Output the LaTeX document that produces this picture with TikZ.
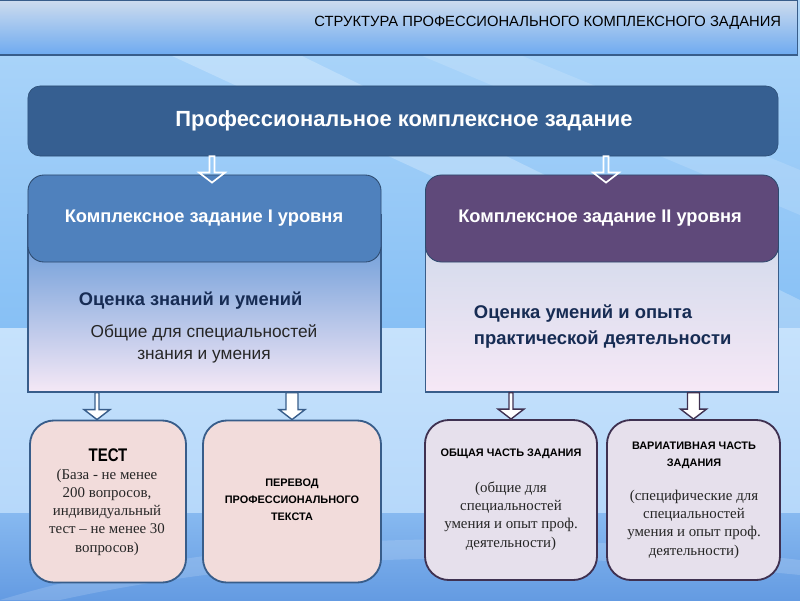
\documentclass[tikz,border=0pt]{standalone}
\usepackage{fontspec}
\setmainfont{Liberation Serif}
\newfontfamily\nsans[FakeStretch=0.82]{Liberation Sans}
\newfontfamily\asans{Liberation Sans}
\usetikzlibrary{calc}
\definecolor{mainblue}{RGB}{54,95,145}
\definecolor{lvlblue}{RGB}{79,129,189}
\definecolor{lvlpurple}{RGB}{95,73,122}
\definecolor{edgeblue}{RGB}{56,93,138}
\definecolor{edgepurple}{RGB}{63,49,81}
\definecolor{pinkfill}{RGB}{242,220,219}
\definecolor{lilacfill}{RGB}{230,224,236}
\definecolor{navytext}{RGB}{23,44,84}
\tikzset{
  px/.style={x=0.025cm,y=-0.025cm},
  hdrbox/.style={draw=edgeblue,line width=0.8pt,top color={rgb,255:red,205;green,220;blue,238},bottom color={rgb,255:red,110;green,170;blue,240},minimum width=20.25cm,minimum height=1.375cm,inner sep=0},
  mainbox/.style={fill=mainblue,draw=mainblue!80!black,rounded corners=0.3cm,minimum width=18.75cm,minimum height=1.75cm,inner sep=0},
  topbox/.style={draw=edgeblue!80!black,line width=0.6pt,rounded corners=0.4cm,minimum width=8.825cm,minimum height=2.175cm,inner sep=0},
  lowbox/.style={draw=edgeblue,line width=0.8pt,minimum width=8.825cm,minimum height=4.425cm,inner sep=0},
  leafbox/.style={line width=1.3pt,rounded corners=0.6cm,minimum height=4.05cm,inner sep=0},
  toparrow/.style={draw=white,line width=1.2pt,line join=miter},
  lowarrow/.style={draw=edgeblue,fill=white,line width=1pt,line join=miter},
  ttl/.style={text=white,font=\asans\bfseries\fontsize{13}{15}\selectfont},
  caps/.style={font=\asans\bfseries\fontsize{7.75}{12}\selectfont,align=center,text=black},
  serifbody/.style={font=\fontsize{10.6}{13}\selectfont,align=center,text=black!85},
}
\newcommand\blockarrow[4]{% style, start, end, shaft half width
  \path[#1] ($(#2)+(-#4,0)$) -- ($(#3)+(-#4,-10)$) -- ($(#3)+(-13,-10)$) -- (#3)
     -- ($(#3)+(13,-10)$) -- ($(#3)+(#4,-10)$) -- ($(#2)+(#4,0)$) -- cycle;}
\begin{document}
\begin{tikzpicture}[px]
\useasboundingbox (0,0) rectangle (800,600);
% background
\shade[top color={rgb,255:red,175;green,215;blue,250},bottom color={rgb,255:red,135;green,192;blue,245}] (0,0) rectangle (800,328);
\shade[top color={rgb,255:red,198;green,226;blue,252},bottom color={rgb,255:red,182;green,216;blue,250}] (0,328) rectangle (800,513);
\shade[top color={rgb,255:red,135;green,185;blue,240},bottom color={rgb,255:red,100;green,155;blue,226}] (0,513) rectangle (800,600);
\fill[white,opacity=0.25] (170,55) -- (300,55) -- (800,300) -- (800,328) -- (760,328) -- cycle;
\fill[white,opacity=0.15] (420,55) -- (520,55) -- (800,170) -- (800,215) -- cycle;
\fill[white,opacity=0.15] (0,600) .. controls (200,540) and (450,520) .. (800,560) -- (800,575) .. controls (450,540) and (220,565) .. (60,600) -- cycle;
% header
\node[hdrbox] (hdr) at (392.5,27.5) {};
\node[anchor=east,font=\asans\fontsize{10.5}{12}\selectfont] (hdrtxt) at (786,23) {СТРУКТУРА ПРОФЕССИОНАЛЬНОГО КОМПЛЕКСНОГО ЗАДАНИЯ};
% main
\node[mainbox] (main) at (403,121) {};
\node[ttl,font=\asans\bfseries\fontsize{15.6}{17}\selectfont] (maintxt) at (404,121) {Профессиональное комплексное задание};
% level I
\node[lowbox,top color={rgb,255:red,88;green,145;blue,212},middle color={rgb,255:red,130;green,185;blue,245},bottom color={rgb,255:red,245;green,232;blue,246}] (l1bot) at (204.5,303.5) {};
\node[topbox,fill=lvlblue] (l1top) at (204.5,218.5) {};
\node[ttl] (l1txt) at (204,218) {Комплексное задание I уровня};
\node[anchor=west,text=navytext,font=\asans\bfseries\fontsize{13}{14}\selectfont] (l1a) at (74,301) {Оценка знаний и умений};
\node[align=center,text=black!85,font=\asans\fontsize{12.3}{15.6}\selectfont] (l1b) at (204,344) {Общие для специальностей\\знания и умения};
% level II
\node[lowbox,top color={rgb,255:red,205;green,216;blue,234},bottom color={rgb,255:red,246;green,232;blue,246}] (r1bot) at (602,303.5) {};
\node[topbox,fill=lvlpurple] (r1top) at (602,218.5) {};
\node[ttl] (r1txt) at (600,218) {Комплексное задание II уровня};
\node[anchor=west,align=left,text=navytext,font=\asans\bfseries\fontsize{13.1}{18.5}\selectfont] (r1a) at (469,327) {Оценка умений и опыта\\практической деятельности};
% leaves
\node[leafbox,draw=edgeblue,fill=pinkfill,minimum width=3.9cm] (test) at (108,501.5) {};
\node[leafbox,draw=edgeblue,fill=pinkfill,minimum width=4.45cm] (perevod) at (292,501.5) {};
\node[leafbox,draw=edgepurple,fill=lilacfill,minimum width=4.3cm,minimum height=4cm] (obsh) at (511,500) {};
\node[leafbox,draw=edgepurple,fill=lilacfill,minimum width=4.325cm,minimum height=4cm] (variat) at (693.5,500) {};
\node[font=\nsans\bfseries\fontsize{13}{14}\selectfont] (testh) at (108,455) {ТЕСТ};
\node[serifbody] (testb) at (107,512) {(База - не менее\\200 вопросов,\\индивидуальный\\тест – не менее 30\\вопросов)};
\node[caps] (perevodt) at (292,500) {ПЕРЕВОД\\ПРОФЕССИОНАЛЬНОГО\\ТЕКСТА};
\node[caps] (obsht) at (511,454) {ОБЩАЯ ЧАСТЬ ЗАДАНИЯ};
\node[serifbody] (obshb) at (511,516) {(общие для\\специальностей\\умения и опыт проф.\\деятельности)};
\node[caps] (variatt) at (694,455) {ВАРИАТИВНАЯ ЧАСТЬ\\ЗАДАНИЯ};
\node[serifbody] (variatb) at (694,524) {(специфические для\\специальностей\\умения и опыт проф.\\деятельности)};
% arrows
\coordinate (a1s) at ($(main.south)+(-191,0)$);
\coordinate (a1e) at ($(l1top.north)+(7.5,8)$);
\coordinate (a2s) at ($(main.south)+(203,0)$);
\coordinate (a2e) at ($(r1top.north)+(4,8)$);
\blockarrow{toparrow}{a1s}{a1e}{2.5}
\blockarrow{toparrow}{a2s}{a2e}{2.5}
\coordinate (b1s) at (l1bot.south -| 97,0);
\coordinate (b1e) at (test.north -| 97,0);
\coordinate (b2s) at (l1bot.south -| perevod.north);
\coordinate (b2e) at (perevod.north);
\coordinate (b3s) at (r1bot.south -| obsh.north);
\coordinate (b3e) at (obsh.north);
\coordinate (b4s) at (r1bot.south -| variat.north);
\coordinate (b4e) at (variat.north);
\blockarrow{lowarrow}{b1s}{b1e}{2}
\blockarrow{lowarrow}{b2s}{b2e}{6}
\blockarrow{lowarrow,draw=edgepurple}{b3s}{b3e}{2}
\blockarrow{lowarrow,draw=edgepurple}{b4s}{b4e}{6}
\end{tikzpicture}
\end{document}
